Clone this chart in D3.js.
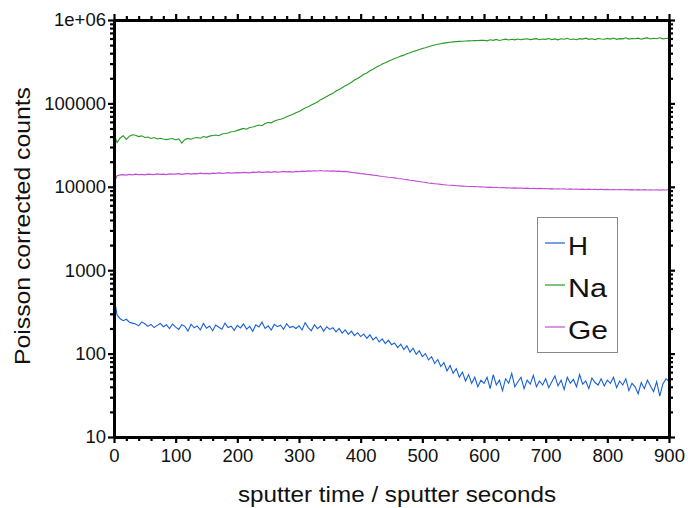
<!DOCTYPE html>
<html>
<head>
<meta charset="utf-8">
<script src="https://cdn.jsdelivr.net/npm/d3@7"></script>
<style>
  body { margin: 0; background: #fff; }
  text { font-family: "Liberation Sans", Arial, sans-serif; }
</style>
</head>
<body>
<script>
// sampled every 5 sputter seconds, 0 .. 900
const step = 5;

const hCounts = [
  480, 290, 262, 248, 258, 238, 232, 226, 215, 240, 228, 212, 224, 205, 218, 230, 210, 222, 199, 226,
  208, 195, 222, 212, 186, 225, 204, 215, 192, 230, 201, 214, 188, 220, 207, 196, 232, 205, 213, 190,
  218, 203, 226, 197, 212, 185, 221, 209, 238, 200, 215, 192, 224, 210, 219, 196, 228, 205, 212, 200,
  215, 192, 235, 205, 188, 222, 199, 214, 186, 210, 195, 204, 182, 200, 176, 193, 170, 186, 164, 178,
  160, 172, 152, 168, 146, 158, 138, 150, 132, 145, 128, 134, 118, 130, 112, 124, 104, 116, 98, 108,
  92, 100, 84, 92, 76, 85, 70, 78, 62, 72, 58, 66, 52, 60, 47, 56, 44, 52, 40, 48,
  44, 52, 38, 56, 42, 48, 36, 50, 44, 58, 40, 46, 52, 38, 48, 43, 55, 40, 47, 42,
  50, 39, 46, 54, 41, 48, 37, 52, 44, 49, 40, 56, 43, 47, 38, 51, 45, 42, 50, 41,
  48, 44, 52, 39, 47, 42, 50, 36, 44, 40, 33, 45, 38, 48, 41, 35, 46, 31, 43, 50, 47
];

const naCounts = [
  42000, 34000, 38500, 41000, 37000, 40500, 42000, 41500, 40000, 40800, 39000, 39500, 38000, 39000, 37500, 38200, 37400, 36800, 37500, 38000,
  36500, 37500, 33500, 37000, 38000, 37200, 38500, 39000, 38200, 40000, 39200, 40500, 41200, 41800, 41000, 43000, 43500, 44200, 45800, 46000,
  47500, 48800, 50200, 49000, 51500, 52000, 53500, 55000, 54000, 57500, 59000, 58500, 61500, 63200, 64500, 66500, 69000, 71500, 74000, 77000,
  80000, 84000, 88000, 91000, 95700, 100000, 104000, 111000, 115000, 121000, 127000, 132000, 141000, 147000, 154000, 163000, 170000, 179000, 191000, 199000,
  210000, 223000, 232000, 246000, 257000, 271000, 282000, 297000, 307000, 321000, 331000, 345000, 355000, 369000, 379000, 393000, 404000, 419000, 429000, 444000,
  455000, 466000, 479000, 490000, 502000, 512000, 520000, 528000, 535000, 540000, 546000, 550000, 554000, 556000, 559000, 562000, 563000, 566000, 567000, 569000,
  572000, 562000, 580000, 570000, 585000, 568000, 580000, 590000, 575000, 588000, 578000, 592000, 580000, 590000, 596000, 582000, 590000, 598000, 580000, 592000,
  586000, 600000, 582000, 594000, 578000, 596000, 588000, 604000, 584000, 592000, 580000, 598000, 590000, 606000, 586000, 596000, 582000, 600000, 592000, 588000,
  602000, 590000, 608000, 586000, 598000, 594000, 612000, 590000, 600000, 596000, 606000, 588000, 602000, 610000, 592000, 604000, 596000, 612000, 594000, 600000, 605000
];

const geCounts = [
  11100, 13600, 13900, 14000, 13800, 14100, 13900, 14200, 14000, 14100, 13900, 14200, 14100, 14000, 14300, 14100, 14200, 14000, 14300, 14200,
  14200, 14400, 14100, 14300, 14500, 14200, 14400, 14300, 14600, 14400, 14500, 14300, 14600, 14500, 14700, 14500, 14600, 14800, 14600, 14700,
  14800, 14700, 14900, 14800, 14700, 15000, 14900, 15100, 14900, 15000, 15100, 14900, 15200, 15000, 15100, 15300, 15100, 15200, 15000, 15300,
  15200, 15400, 15300, 15500, 15400, 15600, 15500, 15700, 15500, 15600, 15400, 15500, 15300, 15400, 15200, 15300, 15100, 14900, 14800, 14600,
  14400, 14300, 14100, 14000, 13800, 13700, 13500, 13300, 13200, 13000, 12900, 12800, 12600, 12500, 12300, 12200, 12000, 11900, 11700, 11600,
  11400, 11300, 11100, 11000, 10900, 10800, 10700, 10600, 10500, 10450, 10400, 10300, 10250, 10200, 10150, 10100, 10080, 10050, 10000, 9980,
  9950, 9850, 9920, 9800, 9860, 9750, 9820, 9700, 9760, 9650, 9720, 9640, 9680, 9580, 9650, 9560, 9610, 9520, 9580, 9500,
  9540, 9450, 9520, 9420, 9490, 9400, 9460, 9360, 9430, 9350, 9410, 9320, 9390, 9300, 9370, 9290, 9350, 9260, 9330, 9250,
  9310, 9230, 9300, 9210, 9280, 9200, 9270, 9180, 9260, 9170, 9250, 9160, 9240, 9150, 9230, 9140, 9220, 9130, 9200, 9150, 9180
];

const seriesNames = ["H", "Na", "Ge"];
const seriesColors = ["#1860d8", "#259b25", "#c24fd6"];
const xTicks = [0, 100, 200, 300, 400, 500, 600, 700, 800, 900];
const yTicks = [10, 100, 1000, 10000, 100000, 1000000];
const yTickLabels = ["10", "100", "1000", "10000", "100000", "1e+06"];

const width = 688, height = 508;
const plotL = 114, plotR = 669, plotT = 20, plotB = 437;

const svg = d3.select("body")
  .append("svg")
  .attr("width", width)
  .attr("height", height);

const x = d3.scaleLinear().domain([0, 900]).range([plotL, plotR]);
const y = d3.scaleLog().domain([10, 1e6]).range([plotB, plotT]);

const minorX = d3.range(0, 901, 20).filter(d => d % 100 !== 0);
const minorY = y.ticks().filter(d => yTicks.indexOf(d) < 0);

const series = [hCounts, naCounts, geCounts];

// curves
const line = d3.line()
  .x((d, i) => x(i * step))
  .y(d => y(d));

svg.selectAll("path.trace")
  .data(series)
  .enter()
  .append("path")
  .attr("class", "trace")
  .attr("d", line)
  .attr("fill", "none")
  .attr("stroke", (d, i) => seriesColors[i])
  .attr("stroke-width", 1.1);

// axes
function styleAxis(g) {
  g.select(".domain").attr("stroke", "#000").attr("stroke-width", 2.8);
  g.selectAll(".tick line").attr("stroke", "#000").attr("stroke-width", 2.2);
  g.selectAll(".tick text").attr("font-size", 18.5).attr("fill", "#111")
    .attr("font-family", "Liberation Sans, Arial, sans-serif");
}

svg.append("g")
  .attr("transform", "translate(0," + plotB + ")")
  .call(d3.axisBottom(x).tickValues(minorX).tickSize(4).tickSizeOuter(0).tickFormat(""))
  .call(styleAxis);
svg.append("g")
  .attr("transform", "translate(0," + plotB + ")")
  .call(d3.axisBottom(x).tickValues(xTicks).tickSize(6).tickSizeOuter(0).tickPadding(6))
  .call(styleAxis);

svg.append("g")
  .attr("transform", "translate(0," + plotT + ")")
  .call(d3.axisTop(x).tickValues(minorX).tickSize(4).tickSizeOuter(0).tickFormat(""))
  .call(styleAxis);
svg.append("g")
  .attr("transform", "translate(0," + plotT + ")")
  .call(d3.axisTop(x).tickValues(xTicks).tickSize(6).tickSizeOuter(0).tickFormat(""))
  .call(styleAxis);

svg.append("g")
  .attr("transform", "translate(" + plotL + ",0)")
  .call(d3.axisLeft(y).tickValues(minorY).tickSize(4).tickSizeOuter(0).tickFormat(""))
  .call(styleAxis);
svg.append("g")
  .attr("transform", "translate(" + plotL + ",0)")
  .call(d3.axisLeft(y).tickValues(yTicks).tickSize(6).tickSizeOuter(0).tickPadding(2)
    .tickFormat((d, i) => yTickLabels[i]))
  .call(styleAxis);

svg.append("g")
  .attr("transform", "translate(" + plotR + ",0)")
  .call(d3.axisRight(y).tickValues(minorY).tickSize(4).tickSizeOuter(0).tickFormat(""))
  .call(styleAxis);
svg.append("g")
  .attr("transform", "translate(" + plotR + ",0)")
  .call(d3.axisRight(y).tickValues(yTicks).tickSize(6).tickSizeOuter(0).tickFormat(""))
  .call(styleAxis);

// titles
svg.append("text")
  .attr("x", 397)
  .attr("y", 502)
  .attr("text-anchor", "middle")
  .attr("font-size", 22)
  .attr("textLength", 318)
  .attr("lengthAdjust", "spacingAndGlyphs")
  .attr("fill", "#111")
  .text("sputter time / sputter seconds");

svg.append("text")
  .attr("transform", "translate(30,226) rotate(-90)")
  .attr("text-anchor", "middle")
  .attr("font-size", 22)
  .attr("textLength", 278)
  .attr("lengthAdjust", "spacingAndGlyphs")
  .attr("fill", "#111")
  .text("Poisson corrected counts");

// legend
const legendWidths = [20, 39, 40];
const legend = svg.append("g");
legend.append("rect")
  .attr("x", 537.5)
  .attr("y", 217.5)
  .attr("width", 80)
  .attr("height", 135)
  .attr("fill", "#fff")
  .attr("stroke", "#888")
  .attr("stroke-width", 1);

const items = legend.selectAll("g.item")
  .data(seriesNames)
  .enter()
  .append("g")
  .attr("class", "item")
  .attr("transform", (d, i) => "translate(0," + (255 + i * 42) + ")");

items.append("line")
  .attr("x1", 545)
  .attr("x2", 565)
  .attr("y1", -12)
  .attr("y2", -12)
  .attr("stroke", (d, i) => seriesColors[i])
  .attr("stroke-width", 1.2);

items.append("text")
  .attr("x", 568)
  .attr("y", 0)
  .attr("font-size", 25)
  .attr("textLength", (d, i) => legendWidths[i])
  .attr("lengthAdjust", "spacingAndGlyphs")
  .attr("fill", "#111")
  .text(d => d);
</script>
</body>
</html>
